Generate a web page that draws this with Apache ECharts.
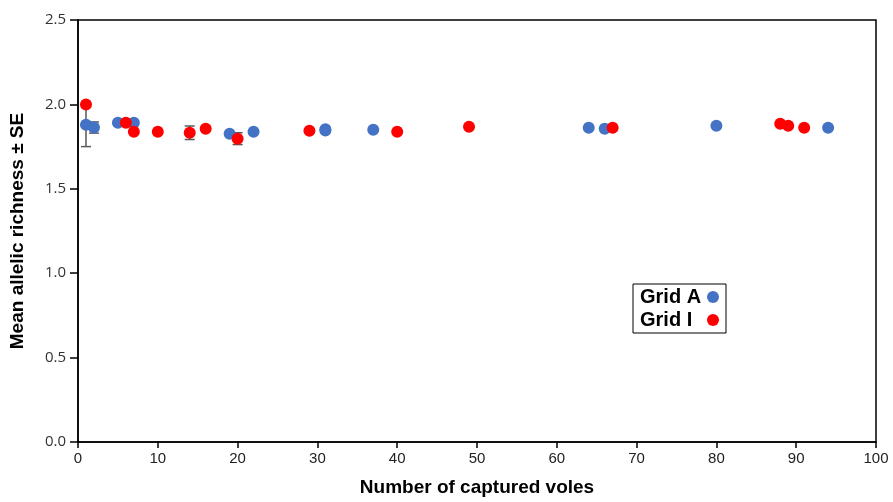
<!DOCTYPE html>
<html>
<head>
<meta charset="utf-8">
<script src="https://cdn.jsdelivr.net/npm/echarts@6/dist/echarts.min.js"></script>
<style>
  html, body { margin: 0; padding: 0; background: #fff; }
  #chart { width: 893px; height: 502px; }
</style>
</head>
<body>
<div id="chart"></div>
<script>
// Grid A (blue)
const gridAX = [1, 2, 5, 7, 19, 22, 31, 31, 37, 64, 66, 80, 94]
const gridAY = [1.88, 1.863, 1.891, 1.891, 1.826, 1.838, 1.853, 1.845, 1.85, 1.862, 1.856, 1.874, 1.862]
const gridASE = [0.13, 0.033, 0, 0, 0, 0, 0, 0, 0, 0, 0, 0, 0]

// Grid I (red)
const gridIX = [1, 6, 7, 10, 14, 16, 20, 29, 40, 49, 67, 88, 89, 91]
const gridIY = [2.0, 1.891, 1.838, 1.838, 1.832, 1.856, 1.797, 1.844, 1.838, 1.868, 1.862, 1.885, 1.874, 1.862]
const gridISE = [0, 0, 0, 0, 0.04, 0, 0.035, 0, 0, 0, 0, 0, 0, 0]

const blue = '#4472C4'
const red = '#FF0000'

function points(xs, ys) {
  return xs.map((x, i) => [x, ys[i]])
}

function errors(xs, ys, se) {
  const out = []
  xs.forEach((x, i) => {
    if (se[i] > 0) out.push([x, ys[i] - se[i], ys[i] + se[i]])
  })
  return out
}

const errorData = errors(gridAX, gridAY, gridASE).concat(errors(gridIX, gridIY, gridISE))

const chart = echarts.init(document.getElementById('chart'))

const option = {
  animation: false,
  grid: {
    left: 77,
    right: 17,
    top: 20,
    bottom: 59,
    show: true,
    borderColor: '#000',
    borderWidth: 1.5,
    backgroundColor: 'transparent'
  },
  legend: {
    data: ['Grid A', 'Grid I'],
    orient: 'vertical',
    left: 633,
    top: 284,
    align: 'right',
    icon: 'circle',
    itemWidth: 12,
    itemHeight: 12,
    itemGap: 3,
    padding: [3, 7, 3, 7],
    borderColor: '#000',
    borderWidth: 1,
    formatter: name => '{t|' + name + '}',
    textStyle: {
      rich: {
        t: {
          fontFamily: 'Liberation Sans, Arial, sans-serif',
          fontWeight: 'bold',
          fontSize: 20,
          color: '#000',
          width: 62,
          align: 'left'
        }
      }
    }
  },
  xAxis: {
    type: 'value',
    min: 0,
    max: 100,
    interval: 10,
    name: 'Number of captured voles',
    nameLocation: 'middle',
    nameGap: 36,
    nameTextStyle: {
      fontFamily: 'Liberation Sans, Arial, sans-serif',
      fontWeight: 'bold',
      fontSize: 19,
      color: '#000'
    },
    axisLine: { lineStyle: { color: '#000', width: 1.5 } },
    axisTick: { length: 6, lineStyle: { color: '#000', width: 1.5 } },
    axisLabel: {
      fontFamily: 'Liberation Sans Narrow, Arial Narrow, sans-serif',
      fontSize: 15,
      color: '#222',
      margin: 9
    },
    splitLine: { show: false }
  },
  yAxis: {
    type: 'value',
    min: 0,
    max: 2.5,
    interval: 0.5,
    name: 'Mean allelic richness ± SE',
    nameLocation: 'middle',
    nameGap: 51,
    nameTextStyle: {
      fontFamily: 'Liberation Sans, Arial, sans-serif',
      fontWeight: 'bold',
      fontSize: 19,
      color: '#000'
    },
    axisLine: { show: true, lineStyle: { color: '#000', width: 1.5 } },
    axisTick: { show: true, length: 8, lineStyle: { color: '#000', width: 1.5 } },
    axisLabel: {
      fontFamily: 'Open Sans, Noto Sans, sans-serif',
      fontSize: 15,
      color: '#333',
      margin: 12,
      formatter: v => v.toFixed(1)
    },
    splitLine: { show: false }
  },
  series: [
    {
      type: 'custom',
      name: 'errors',
      z: 1,
      silent: true,
      data: errorData,
      renderItem: (params, api) => {
        const x = api.value(0)
        const lo = api.coord([x, api.value(1)])
        const hi = api.coord([x, api.value(2)])
        const w = 5
        const style = { stroke: '#595959', lineWidth: 1.5 }
        return {
          type: 'group',
          children: [
            { type: 'line', shape: { x1: lo[0], y1: lo[1], x2: hi[0], y2: hi[1] }, style },
            { type: 'line', shape: { x1: lo[0] - w, y1: lo[1], x2: lo[0] + w, y2: lo[1] }, style },
            { type: 'line', shape: { x1: hi[0] - w, y1: hi[1], x2: hi[0] + w, y2: hi[1] }, style }
          ]
        }
      }
    },
    {
      type: 'scatter',
      name: 'Grid A',
      z: 2,
      symbolSize: 12,
      itemStyle: { color: blue, opacity: 1 },
      data: points(gridAX, gridAY)
    },
    {
      type: 'scatter',
      name: 'Grid I',
      z: 3,
      symbolSize: 12,
      itemStyle: { color: red, opacity: 1 },
      data: points(gridIX, gridIY)
    }
  ]
}

chart.setOption(option)
</script>
</body>
</html>
